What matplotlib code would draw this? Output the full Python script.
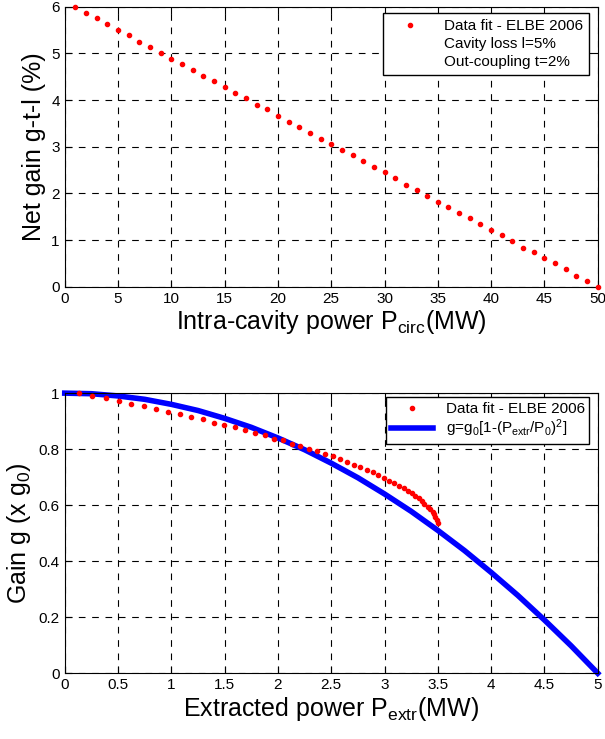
import numpy as np
import matplotlib
matplotlib.use('Agg')
from matplotlib import pyplot as plt
from matplotlib.lines import Line2D

plt.rcParams['font.family'] = ['Liberation Sans', 'DejaVu Sans']
plt.rcParams['mathtext.fontset'] = 'custom'
plt.rcParams['mathtext.rm'] = 'Liberation Sans'
plt.rcParams['mathtext.it'] = 'Liberation Sans'
plt.rcParams['mathtext.default'] = 'regular'

# top panel: net gain vs intra-cavity power
p_circ = list(range(1, 51))
net_gain = [6.00, 5.86, 5.75, 5.62, 5.49, 5.39, 5.25, 5.14, 5.01, 4.88,
            4.78, 4.64, 4.51, 4.41, 4.27, 4.16, 4.04, 3.90, 3.80, 3.66,
            3.53, 3.43, 3.29, 3.16, 3.06, 2.93, 2.82, 2.69, 2.56, 2.45,
            2.32, 2.19, 2.08, 1.95, 1.82, 1.71, 1.59, 1.47, 1.34, 1.21,
            1.11, 0.98, 0.84, 0.74, 0.61, 0.50, 0.37, 0.24, 0.13, 0.00]

# bottom panel: gain vs extracted power (data fit)
p_extr = [0.130, 0.257, 0.383, 0.505, 0.625, 0.743, 0.858, 0.971, 1.081, 1.188,
          1.296, 1.397, 1.496, 1.597, 1.691, 1.786, 1.877, 1.962, 2.052, 2.132,
          2.211, 2.295, 2.367, 2.438, 2.515, 2.582, 2.651, 2.713, 2.772, 2.835,
          2.889, 2.941, 2.996, 3.043, 3.087, 3.136, 3.178, 3.219, 3.253, 3.284,
          3.325, 3.352, 3.371, 3.406, 3.425, 3.450, 3.464, 3.475, 3.494, 3.500]
gain = [1.000, 0.989, 0.981, 0.971, 0.961, 0.953, 0.942, 0.934, 0.924, 0.914,
        0.906, 0.895, 0.885, 0.878, 0.867, 0.858, 0.849, 0.838, 0.831, 0.820,
        0.810, 0.802, 0.792, 0.782, 0.774, 0.764, 0.755, 0.745, 0.735, 0.727,
        0.717, 0.707, 0.698, 0.688, 0.678, 0.670, 0.661, 0.652, 0.642, 0.632,
        0.624, 0.614, 0.603, 0.595, 0.585, 0.577, 0.567, 0.557, 0.548, 0.538]

# bottom panel: model curve
model_p = [0, 0.25, 0.5, 0.75, 1.0, 1.25, 1.5, 1.75, 2.0, 2.25, 2.5,
           2.75, 3.0, 3.25, 3.5, 3.75, 4.0, 4.25, 4.5, 4.75, 5.0]
model_g = [1.0, 0.998, 0.99, 0.978, 0.96, 0.938, 0.91, 0.878, 0.84, 0.798, 0.75,
           0.698, 0.64, 0.578, 0.51, 0.438, 0.36, 0.278, 0.19, 0.098, 0.0]


def style_ax(ax):
    ax.grid(True, color='black', linestyle=(0, (6, 6)), linewidth=0.8)
    ax.tick_params(direction='in', labelsize=11, length=5, top=True, right=True,
                   labeltop=False, labelright=False)
    for s in ax.spines.values():
        s.set_linewidth(0.8)


fig = plt.figure(figsize=(6.05, 7.39), dpi=100)

ax1 = fig.add_axes([0.107, 0.612, 0.881, 0.379])
ax1.plot(p_circ, net_gain, 'r.', markersize=6, clip_on=False, zorder=3)
ax1.set_xlim(0, 50)
ax1.set_ylim(0, 6)
ax1.set_xticks(range(0, 51, 5))
ax1.set_yticks(range(0, 7))
style_ax(ax1)
ax1.set_xlabel('Intra-cavity power P$_{circ}$(MW)', fontsize=18, labelpad=2)
ax1.set_ylabel('Net gain g-t-l (%)', fontsize=18, labelpad=4)
h1 = [Line2D([], [], color='red', marker='.', linestyle='none', markersize=6),
      Line2D([], [], linestyle='none'),
      Line2D([], [], linestyle='none')]
leg1 = ax1.legend(h1, ['Data fit - ELBE 2006', 'Cavity loss l=5%', 'Out-coupling t=2%'],
                  loc='upper right', bbox_to_anchor=(0.984, 0.977), fontsize=11,
                  frameon=True, fancybox=False, edgecolor='black', framealpha=1,
                  handlelength=2.8, labelspacing=0.25, borderpad=0.4, borderaxespad=0)
leg1.get_frame().set_linewidth(1.0)

ax2 = fig.add_axes([0.107, 0.089, 0.881, 0.379])
ax2.plot(model_p, model_g, color='blue', linewidth=4, zorder=2, clip_on=False)
ax2.plot(p_extr, gain, 'r.', markersize=6, zorder=3, clip_on=False)
ax2.set_xlim(0, 5)
ax2.set_ylim(0, 1)
ax2.set_xticks(np.arange(0, 5.01, 0.5))
ax2.set_xticklabels(['0', '0.5', '1', '1.5', '2', '2.5', '3', '3.5', '4', '4.5', '5'])
ax2.set_yticks(np.arange(0, 1.01, 0.2))
ax2.set_yticklabels(['0', '0.2', '0.4', '0.6', '0.8', '1'])
style_ax(ax2)
ax2.set_xlabel('Extracted power P$_{extr}$(MW)', fontsize=18, labelpad=2)
ax2.set_ylabel('Gain g (x g$_0$)', fontsize=18, labelpad=4)
h2 = [Line2D([], [], color='red', marker='.', linestyle='none', markersize=6),
      Line2D([], [], color='blue', linewidth=4)]
leg2 = ax2.legend(h2, ['Data fit - ELBE 2006', 'g=g$_0$[1-(P$_{extr}$/P$_0$)$^2$]'],
                  loc='upper right', bbox_to_anchor=(0.984, 0.985), fontsize=11,
                  frameon=True, fancybox=False, edgecolor='black', framealpha=1,
                  handlelength=2.8, labelspacing=0.1, borderpad=0.3, borderaxespad=0)
leg2.get_frame().set_linewidth(1.0)

fig.savefig('out.png', dpi=100)
